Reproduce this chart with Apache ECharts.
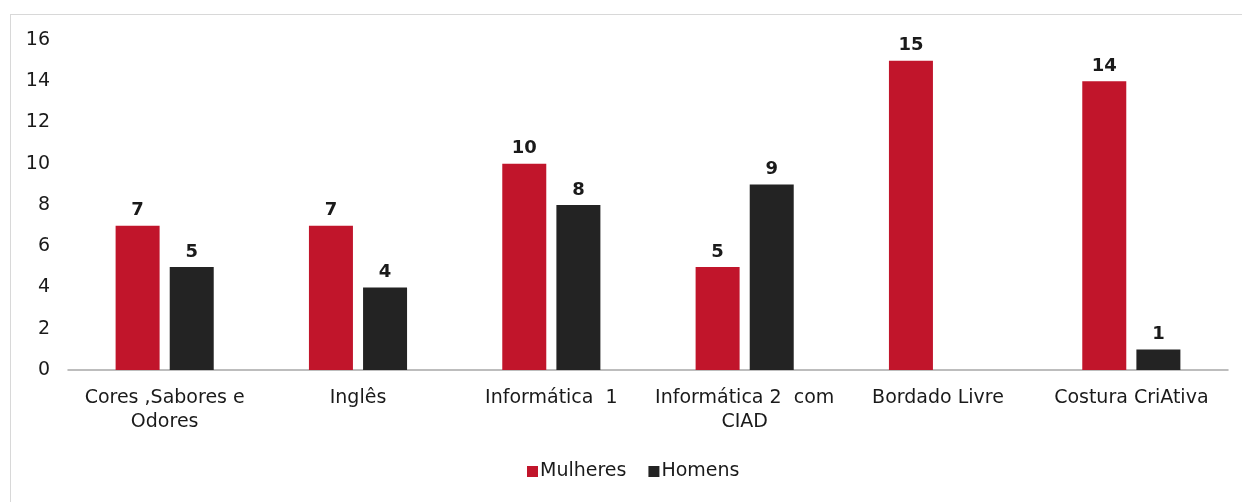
<!DOCTYPE html>
<html>
<head>
<meta charset="utf-8">
<script src="https://cdn.jsdelivr.net/npm/echarts@6/dist/echarts.min.js"></script>
<style>
  html, body { margin: 0; padding: 0; background: #fff; }
  #frame {
    position: absolute; left: 10px; top: 14px; width: 1240px; height: 490px;
    border-left: 1px solid #d8d8d8; border-top: 1px solid #d8d8d8;
  }
  #chart { position: absolute; left: 0; top: 0; width: 1242px; height: 502px; }
</style>
</head>
<body>
<div id="frame"></div>
<div id="chart"></div>
<script>
// categorias (cursos)
const categories = [
  'Cores ,Sabores e\nOdores',
  'Inglês',
  'Informática  1',
  'Informática 2  com\nCIAD',
  'Bordado Livre',
  'Costura CriAtiva'
]
const mulheres = [7, 7, 10, 5, 15, 14]
const homens = [5, 4, 8, 9, null, 1]
const yTicks = { min: 0, max: 16, interval: 2 }

const font = '"DejaVu Sans", sans-serif'

const myChart = echarts.init(document.getElementById('chart'))
myChart.setOption({
  animation: false,
  color: ['#c1152b', '#232323'],
  textStyle: { fontFamily: font },
  grid: {
    left: 68,
    right: 14,
    top: 40,
    bottom: 132
  },
  legend: {
    bottom: 16,
    left: 522,
    itemWidth: 11,
    itemHeight: 11,
    itemGap: 22,
    icon: 'rect',
    textStyle: { fontSize: 19, color: '#1a1a1a', fontFamily: font, padding: [0, 0, 0, -3] },
    data: ['Mulheres', 'Homens']
  },
  xAxis: {
    type: 'category',
    data: categories,
    axisLine: { lineStyle: { color: '#a8a8a8', width: 1.5 } },
    axisTick: { show: false },
    axisLabel: {
      color: '#1a1a1a',
      fontSize: 19,
      lineHeight: 24,
      margin: 16,
      interval: 0,
      fontFamily: font
    }
  },
  yAxis: {
    type: 'value',
    min: yTicks.min,
    max: yTicks.max,
    interval: yTicks.interval,
    axisLine: { show: false },
    axisTick: { show: false },
    splitLine: { show: false },
    axisLabel: {
      color: '#1a1a1a',
      fontSize: 19,
      margin: 18,
      fontFamily: font
    }
  },
  series: [
    {
      name: 'Mulheres',
      type: 'bar',
      data: mulheres,
      barWidth: 44,
      barGap: '23%',
      label: {
        show: true,
        position: 'top',
        distance: 6,
        fontSize: 18,
        fontWeight: 'bold',
        color: '#1a1a1a',
        fontFamily: font
      }
    },
    {
      name: 'Homens',
      type: 'bar',
      data: homens,
      barWidth: 44,
      label: {
        show: true,
        position: 'top',
        distance: 6,
        fontSize: 18,
        fontWeight: 'bold',
        color: '#1a1a1a',
        fontFamily: font
      }
    }
  ]
})
</script>
</body>
</html>
